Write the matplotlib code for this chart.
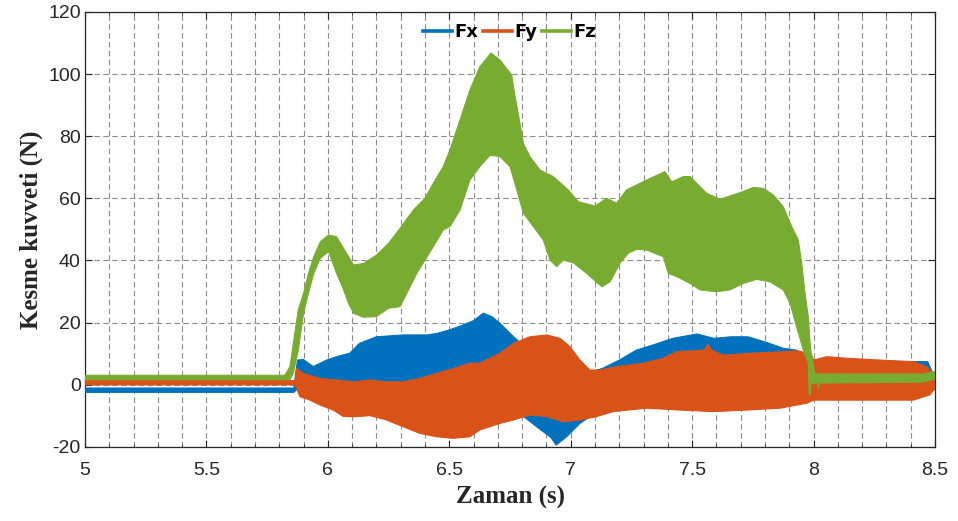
import numpy as np
import matplotlib
matplotlib.use("Agg")
import matplotlib.pyplot as plt
from matplotlib.lines import Line2D
from matplotlib.ticker import MultipleLocator

# ---------------- data (envelopes of the oscillating force signals) ----------------
fx_t_up = [5.0, 5.86, 5.868, 5.875, 5.899, 5.94, 5.995, 6.036, 6.09, 6.13, 6.2, 6.31, 6.41, 6.45,
           6.5, 6.55, 6.6, 6.64, 6.675, 6.71, 6.75, 6.78, 6.8, 6.85, 6.9, 7.0, 7.05, 7.1, 7.13,
           7.2, 7.27, 7.34, 7.42, 7.52, 7.59, 7.66, 7.73, 7.81, 7.875, 7.93, 7.98, 8.05, 8.38,
           8.41, 8.47, 8.5]
fx_up = [-1.1, -1.1, 4, 7.9, 8.1, 5.8, 7.9, 9, 10.1, 13.3, 15.4, 16, 16, 16.5,
         17.6, 19, 20.6, 23, 21.9, 19.7, 16.5, 14.4, 12, 8, 4, 2, 3, 4.5, 5.2,
         7.9, 11.1, 12.8, 14.9, 16.3, 14.9, 15.4, 15.4, 13.5, 11.7, 11.1, 9, 6, 6,
         7.4, 7.4, 2]
fx_t_lo = [5.0, 5.86, 5.88, 6.5, 6.65, 6.72, 6.79, 6.86, 6.918, 6.94, 6.983, 7.038, 7.08, 7.15,
           7.3, 7.9, 8.0, 8.45, 8.5]
fx_lo = [-2.5, -2.5, -1, -2, -4, -7, -9.3, -13.6, -17, -19.5, -16.8, -12.5, -10.3, -7,
         -5, -4, -3, -2.7, -1.5]

fy_t_up = [5.0, 5.865, 5.872, 5.899, 5.968, 6.036, 6.105, 6.174, 6.242, 6.311, 6.379, 6.448,
           6.517, 6.585, 6.626, 6.709, 6.764, 6.832, 6.901, 6.956, 6.997, 7.038, 7.079, 7.12,
           7.189, 7.299, 7.381, 7.436, 7.55, 7.565, 7.58, 7.628, 7.738, 7.875, 7.93, 7.99,
           7.999, 8.054, 8.136, 8.273, 8.411, 8.466, 8.5]
fy_up = [1.3, 1.3, 5.2, 3.6, 2, 1.5, 0.9, 1.5, 0.9, 0.9, 2, 3.6,
         5.2, 6.9, 6.9, 10.1, 13.3, 15.4, 16, 14.9, 12.2, 7.9, 4.7, 4.7,
         5.8, 6.9, 8.5, 10.6, 11.1, 13, 11.1, 9.5, 10.1, 10.6, 10.9, 10,
         7.9, 9, 8.5, 7.9, 7.4, 5.8, 2.5]
fy_t_lo = [5.0, 5.865, 5.885, 5.926, 5.968, 6.022, 6.064, 6.119, 6.174, 6.242, 6.311, 6.379,
           6.448, 6.517, 6.585, 6.626, 6.709, 6.764, 6.832, 6.901, 6.97, 7.038, 7.107, 7.175,
           7.313, 7.45, 7.587, 7.725, 7.862, 7.972, 8.0, 8.411, 8.479, 8.5]
fy_lo = [-0.1, -0.1, -3.9, -5, -6.6, -8.2, -10.3, -10.3, -10, -11.4, -13.6, -15.7,
         -16.8, -17.3, -16.8, -14.6, -12.5, -11.4, -9.8, -10.3, -12, -11.4, -10.3, -8.7,
         -7.6, -8.2, -8.7, -8.2, -7.6, -6, -5, -5, -3.3, -1.2]

fz_t_up = [5.0, 5.823, 5.844, 5.858, 5.878, 5.9, 5.92, 5.942, 5.969, 6.003, 6.036, 6.077, 6.106,
           6.146, 6.2, 6.25, 6.297, 6.352, 6.4, 6.434, 6.475, 6.503, 6.544, 6.585, 6.626, 6.672,
           6.709, 6.757, 6.771, 6.791, 6.805, 6.832, 6.874, 6.928, 6.99, 7.031, 7.1, 7.148,
           7.189, 7.23, 7.313, 7.388, 7.416, 7.464, 7.491, 7.56, 7.615, 7.697, 7.752, 7.793,
           7.834, 7.875, 7.91, 7.937, 7.951, 7.965, 7.978, 7.988, 7.996, 8.005, 8.45, 8.5]
fz_up = [3.0, 3.0, 5.8, 13.4, 24, 29.4, 35.8, 41.2, 46, 48.2, 47.6, 42.3, 38.5,
         39, 41.7, 45.5, 50.3, 56.2, 60, 64.8, 70.2, 75.6, 85.2, 94.9, 102.4, 106.8,
         104.5, 99.7, 92.7, 84.2, 77.7, 73.4, 69.1, 67, 62.7, 58.9, 57.5, 60,
         58.4, 62.7, 65.9, 68.6, 65.3, 67, 67, 61.6, 59.7, 61.8, 63.5, 63.2,
         61.1, 57.3, 50.9, 46.6, 39.1, 29.4, 21.9, 11.1, 7.9, 3.4, 3.4, 4.2]
fz_t_lo = [5.0, 5.844, 5.858, 5.878, 5.9, 5.92, 5.942, 5.969, 6.003, 6.036, 6.06, 6.085, 6.106,
           6.146, 6.2, 6.25, 6.297, 6.325, 6.366, 6.4, 6.434, 6.475, 6.503, 6.544, 6.585, 6.626,
           6.668, 6.709, 6.75, 6.778, 6.805, 6.846, 6.887, 6.915, 6.942, 6.97, 7.011, 7.066,
           7.128, 7.162, 7.203, 7.237, 7.272, 7.313, 7.381, 7.402, 7.436, 7.491, 7.532, 7.601,
           7.656, 7.711, 7.766, 7.821, 7.875, 7.903, 7.93, 7.958, 7.978, 7.982, 7.986, 7.99,
           8.018, 8.02, 8.023, 8.45, 8.5]
fz_lo = [1.6, 1.6, 3.7, 11, 23, 29.4, 35.8, 40.7, 42.8, 35.8, 31.5, 26.2, 23,
         21.7, 21.9, 24.6, 25.1, 29.4, 35.8, 40.1, 44.4, 49.8, 50.9, 56.2, 65.9, 70.2,
         73.9, 73.4, 70.2, 62.7, 55.2, 50.9, 46.6, 40.1, 38, 40.1, 39.2, 35.8,
         31.5, 33.1, 39.1, 42.3, 43.6, 43.3, 41.2, 35.8, 34.8, 32.6, 30.5, 29.9,
         30.5, 32.6, 33.9, 33.1, 30.5, 26.2, 18.6, 11.1, 6.9, -3.3, -3.3, 0.5,
         0.5, -1.4, 0.5, 0.8, 1.8]

series_names = ["Fx", "Fy", "Fz"]
series_colors = ["#0072BD", "#D95319", "#77AC30"]
x_ticks = [5, 5.5, 6, 6.5, 7, 7.5, 8, 8.5]
x_tick_labels = ["5", "5.5", "6", "6.5", "7", "7.5", "8", "8.5"]
y_ticks = [-20, 0, 20, 40, 60, 80, 100, 120]
x_label = "Zaman (s)"
y_label = "Kesme kuvveti (N)"

# ---------------- figure ----------------
plt.rcParams["axes.unicode_minus"] = False
fig = plt.figure(figsize=(9.58, 5.21), dpi=100)
ax = fig.add_axes([85 / 958, 1 - 446.7 / 521, 850 / 958, 434.7 / 521])

envelopes = [
    (fx_t_up, fx_up, fx_t_lo, fx_lo),
    (fy_t_up, fy_up, fy_t_lo, fy_lo),
    (fz_t_up, fz_up, fz_t_lo, fz_lo),
]
for (tu, vu, tl, vl), c in zip(envelopes, series_colors):
    xs = np.concatenate([tu, tl[::-1]])
    ys = np.concatenate([vu, vl[::-1]])
    ax.fill(xs, ys, facecolor=c, edgecolor=c, linewidth=0.8, zorder=3)

ax.set_xlim(5, 8.5)
ax.set_ylim(-20, 120)
ax.set_xticks(x_ticks)
ax.set_xticklabels(x_tick_labels)
ax.set_yticks(y_ticks)
ax.xaxis.set_minor_locator(MultipleLocator(0.1))

tick_color = "#262626"
ax.tick_params(which="both", direction="in", top=True, right=True, colors=tick_color)
ax.tick_params(which="major", length=5, width=0.8)
ax.tick_params(which="minor", length=2.5, width=0.6)
ax.tick_params(axis="x", which="major", pad=11)
ax.tick_params(axis="y", which="major", pad=3)
for lab in ax.get_xticklabels() + ax.get_yticklabels():
    lab.set_fontfamily("Liberation Sans")
    lab.set_fontsize(14)
    lab.set_color(tick_color)
for sp in ax.spines.values():
    sp.set_color(tick_color)
    sp.set_linewidth(0.9)

ax.set_axisbelow(True)
ax.grid(True, which="major", axis="y", color="#8c8c8c", linestyle=(0, (5, 3)), linewidth=0.8)
ax.grid(True, which="both", axis="x", color="#8c8c8c", linestyle=(0, (5, 3)), linewidth=0.8)

ax.set_xlabel(x_label, fontfamily="Liberation Serif", fontweight="bold", fontsize=18,
              color="#262626", labelpad=5)
ax.set_ylabel(y_label, fontfamily="Liberation Serif", fontweight="bold", fontsize=18,
              color="#262626", labelpad=4)

handles = [Line2D([0], [0], color=c, lw=2.6) for c in series_colors]
leg = fig.legend(handles, series_names, loc="center", bbox_to_anchor=(0.532, 0.9386),
                 bbox_transform=fig.transFigure, ncol=3, frameon=False,
                 handlelength=1.6, handletextpad=0.1, columnspacing=0.3,
                 prop={"family": "DejaVu Sans", "weight": "bold", "size": 13})

fig.savefig("out.png", dpi=100)
